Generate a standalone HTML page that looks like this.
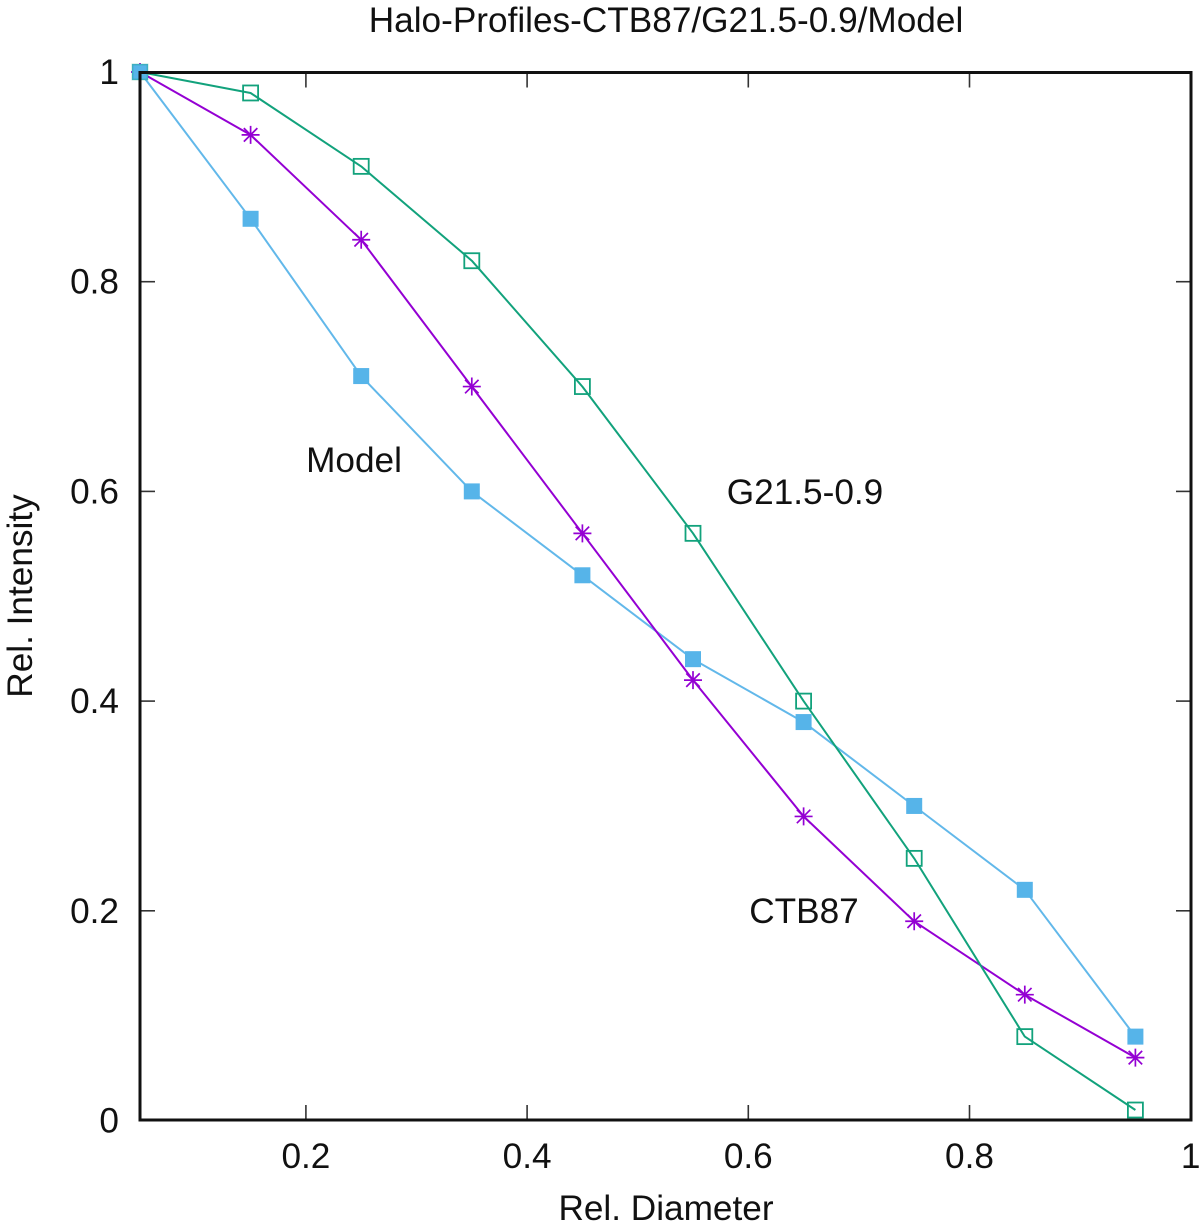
<!DOCTYPE html>
<html>
<head>
<meta charset="utf-8">
<title>Halo-Profiles-CTB87/G21.5-0.9/Model</title>
<style>
html,body{margin:0;padding:0;background:#fff;width:1200px;height:1227px;overflow:hidden}
svg{display:block}
text{font-family:"Liberation Sans",Arial,sans-serif;font-size:35.2px;fill:#111}
</style>
</head>
<body>
<svg id="chart" xmlns="http://www.w3.org/2000/svg" width="1200" height="1227" viewBox="0 0 1200 1227">
<rect x="0" y="0" width="1200" height="1227" fill="#fff"/>
<text x="666" y="32" text-anchor="middle">Halo-Profiles-CTB87/G21.5-0.9/Model</text>
<text x="666" y="1220" text-anchor="middle">Rel. Diameter</text>
<text x="32" y="596" text-anchor="middle" transform="rotate(-90 32 596)">Rel. Intensity</text>
<text x="354" y="472" text-anchor="middle">Model</text>
<text x="805" y="504" text-anchor="middle">G21.5-0.9</text>
<text x="804" y="923" text-anchor="middle">CTB87</text>
<g id="ticks"></g>
<g id="series"></g>
<g id="markers"></g>
<rect id="frame" x="140" y="72.5" width="1051" height="1047.5" fill="none" stroke="#111" stroke-width="3"/>
</svg>
<script>
const diameters = [0.05, 0.15, 0.25, 0.35, 0.45, 0.55, 0.65, 0.75, 0.85, 0.95];
const modelValues = [1, 0.86, 0.71, 0.6, 0.52, 0.44, 0.38, 0.3, 0.22, 0.08];
const g21Values = [1, 0.98, 0.91, 0.82, 0.7, 0.56, 0.4, 0.25, 0.08, 0.01];
const ctb87Values = [1, 0.94, 0.84, 0.7, 0.56, 0.42, 0.29, 0.19, 0.12, 0.06];
const xTicks = [0.2, 0.4, 0.6, 0.8, 1];
const xTickLabels = ['0.2', '0.4', '0.6', '0.8', '1'];
const yTicks = [0, 0.2, 0.4, 0.6, 0.8, 1];
const yTickLabels = ['0', '0.2', '0.4', '0.6', '0.8', '1'];

const NS = 'http://www.w3.org/2000/svg';
const xScale = v => 140 + (v - 0.05) * 1106;
const yScale = v => 1120.5 - v * 1048.5;
const tickGroup = document.getElementById('ticks');
const seriesGroup = document.getElementById('series');
const markerGroup = document.getElementById('markers');

function make(tag, attrs, parent) {
  const el = document.createElementNS(NS, tag);
  for (const k in attrs) el.setAttribute(k, attrs[k]);
  parent.appendChild(el);
  return el;
}

xTicks.forEach((t, i) => {
  const x = xScale(t);
  if (t < 1) {
    const a = make('line', {x1: x, x2: x, y1: 1120, y2: 1105, stroke: '#333', 'stroke-width': 1.6}, tickGroup);
    
    
    const b = make('line', {x1: x, x2: x, y1: 72.5, y2: 87.5, stroke: '#333', 'stroke-width': 1.6}, tickGroup);
    
    
  }
  const label = make('text', {x: x, y: 1168, 'text-anchor': 'middle'}, tickGroup);
  
  
  label.textContent = xTickLabels[i];
});

yTicks.forEach((t, i) => {
  const y = yScale(t);
  if (t > 0 && t < 1) {
    const a = make('line', {x1: 140, x2: 155, y1: y, y2: y, stroke: '#333', 'stroke-width': 1.6}, tickGroup);
    
    
    const b = make('line', {x1: 1191, x2: 1176, y1: y, y2: y, stroke: '#333', 'stroke-width': 1.6}, tickGroup);
    
    
  }
  const label = make('text', {x: 119, y: y + 12, 'text-anchor': 'end'}, tickGroup);
  
  
  label.textContent = yTickLabels[i];
});

function drawLine(values, color, width) {
  const pts = values.map((v, i) => xScale(diameters[i]).toFixed(1) + ',' + yScale(v).toFixed(1)).join(' ');
  return make('polyline', {points: pts, fill: 'none', stroke: color, 'stroke-width': width, 'stroke-linejoin': 'round'}, seriesGroup);
}

const modelLine = drawLine(modelValues, '#62b8ea', 2);


const ctbLine = drawLine(ctb87Values, '#9400d3', 2);


const g21Line = drawLine(g21Values, '#12a27c', 2);



ctb87Values.forEach((v, i) => {
  const x = xScale(diameters[i]), y = yScale(v), r = 9;
  const d = `M${x - r} ${y}H${x + r}M${x} ${y - r}V${y + r}M${x - r * .75} ${y - r * .75}L${x + r * .75} ${y + r * .75}M${x - r * .75} ${y + r * .75}L${x + r * .75} ${y - r * .75}`;
  const m = make('path', {d: d, fill: 'none', stroke: '#9400d3', 'stroke-width': 1.7}, markerGroup);
  
  
});

modelValues.forEach((v, i) => {
  const x = xScale(diameters[i]), y = yScale(v);
  const m = make('rect', {x: x - 8, y: y - 8, width: 16, height: 16, fill: '#56b4e9'}, markerGroup);
  
  
});

g21Values.forEach((v, i) => {
  const x = xScale(diameters[i]), y = yScale(v);
  const m = make('rect', {x: x - 7.5, y: y - 7.5, width: 15, height: 15, fill: 'none', stroke: '#12a27c', 'stroke-width': 1.8}, markerGroup);
  
  
  if (i === 0) m.setAttribute('stroke-opacity', '0.35');
});
</script>
</body>
</html>
